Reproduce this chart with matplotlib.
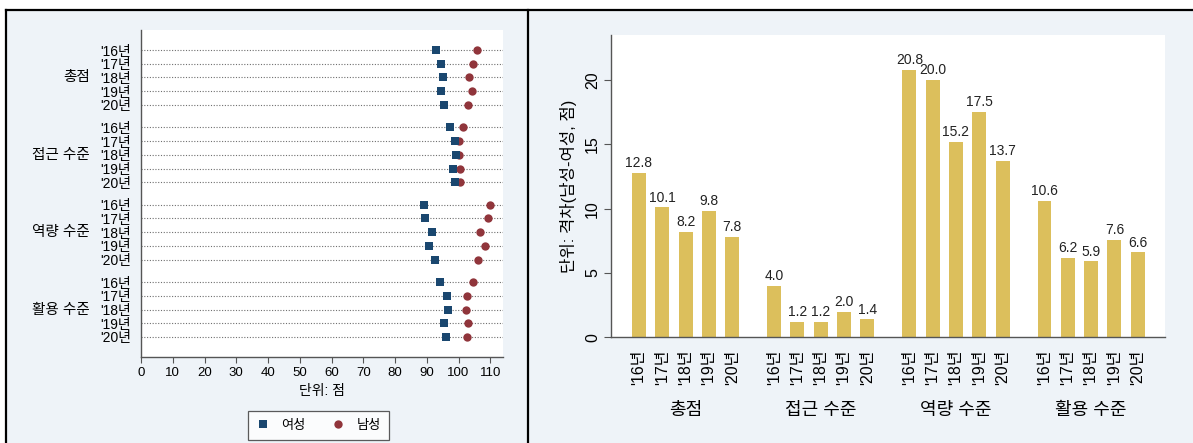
import matplotlib
matplotlib.use("Agg")
import matplotlib.pyplot as plt
from matplotlib.lines import Line2D
from matplotlib.patches import Rectangle
from matplotlib.transforms import blended_transform_factory

plt.rcParams['font.family'] = ['Liberation Sans', 'Noto Sans CJK KR']

# ---- data -------------------------------------------------------------
categories = ['총점', '접근 수준', '역량 수준', '활용 수준']
years = ["'16년", "'17년", "'18년", "'19년", "'20년"]

# scores (점) by category, '16 ~ '20
female_total = [92.8, 94.4, 95.2, 94.5, 95.3]
female_access = [97.3, 98.9, 99.1, 98.4, 99.0]
female_capacity = [89.0, 89.4, 91.7, 90.7, 92.5]
female_usage = [94.1, 96.4, 96.6, 95.3, 96.2]

male_total = [105.7, 104.5, 103.4, 104.3, 103.1]
male_access = [101.3, 100.1, 100.3, 100.4, 100.4]
male_capacity = [109.8, 109.4, 106.9, 108.2, 106.2]
male_usage = [104.7, 102.6, 102.5, 102.9, 102.8]

# gap (남성 - 여성)
gap_total = [12.8, 10.1, 8.2, 9.8, 7.8]
gap_access = [4.0, 1.2, 1.2, 2.0, 1.4]
gap_capacity = [20.8, 20.0, 15.2, 17.5, 13.7]
gap_usage = [10.6, 6.2, 5.9, 7.6, 6.6]

female = [female_total, female_access, female_capacity, female_usage]
male = [male_total, male_access, male_capacity, male_usage]
gap = [gap_total, gap_access, gap_capacity, gap_usage]

# ---- style ------------------------------------------------------------
W, H = 1193, 443
NAVY = '#1a476f'
MAROON = '#90353b'
SAND = '#dcbf5c'
PANEL = '#eef3f8'
AXIS = '#555555'

fig = plt.figure(figsize=(W / 100, H / 100), dpi=100)
fig.patch.set_facecolor('white')

# panel background and frame lines
fig.add_artist(Rectangle((6 / W, 0), 1 - 6 / W, 1 - 10 / H,
                         transform=fig.transFigure, facecolor=PANEL,
                         edgecolor='none', zorder=-5))
for xs, ys in [([6 / W, 1], [1 - 10 / H, 1 - 10 / H]),
               ([6 / W, 6 / W], [0, 1 - 10 / H]),
               ([528 / W, 528 / W], [0, 1 - 10 / H])]:
    fig.add_artist(Line2D(xs, ys, transform=fig.transFigure,
                          color='black', lw=1.6, zorder=5))

# ---- left: dot plot of scores ----------------------------------------
ax1 = fig.add_axes([141 / W, 1 - 357 / H, 362 / W, 327 / H])
ax1.set_facecolor('white')
GROUP_STEP_L = 5.65
rows, labels = [], []
for g in range(len(categories)):
    for j in range(len(years)):
        rows.append(g * GROUP_STEP_L + j)
        labels.append(years[j])

ax1.set_xlim(0, 114)
ax1.set_ylim(rows[-1] + 1.47, -1.47)
ax1.hlines(rows, 0, 114, colors='#6f6f6f', linestyles=(0, (1, 1.5)),
           lw=0.8, zorder=1)

for g in range(len(categories)):
    ys = [g * GROUP_STEP_L + j for j in range(len(years))]
    ax1.plot(male[g], ys, 'o', color=MAROON, markersize=6,
             markeredgewidth=0, zorder=3)
    ax1.plot(female[g], ys, 's', color=NAVY, markersize=6,
             markeredgewidth=0, zorder=4)

ax1.set_yticks(rows)
ax1.set_yticklabels(labels, fontsize=10)
ax1.tick_params(axis='y', length=0, pad=7)
ax1.set_xticks(range(0, 111, 10))
ax1.tick_params(axis='x', labelsize=9.5, length=4, width=0.8, color=AXIS,
                pad=3)
for s in ['top', 'right']:
    ax1.spines[s].set_visible(False)
for s in ['left', 'bottom']:
    ax1.spines[s].set_color(AXIS)
    ax1.spines[s].set_linewidth(1.0)
ax1.set_xlabel('단위: 점', fontsize=10, labelpad=4)

tr1 = blended_transform_factory(ax1.transAxes, ax1.transData)
for g, name in enumerate(categories):
    ax1.text(-0.141, g * GROUP_STEP_L + 2, name, transform=tr1,
             ha='right', va='center', fontsize=10.5)

handles = [Line2D([], [], marker='s', color=NAVY, ls='none', markersize=6,
                  markeredgewidth=0),
           Line2D([], [], marker='o', color=MAROON, ls='none', markersize=6,
                  markeredgewidth=0)]
leg = fig.legend(handles, ['여성', '남성'], loc='center',
                 bbox_to_anchor=(318.5 / W, 1 - 425.5 / H), ncol=2,
                 frameon=True, fancybox=False, fontsize=9.5,
                 handletextpad=0.9, columnspacing=2.0, borderpad=0.6,
                 handlelength=1.0)
leg.get_frame().set_edgecolor('#333333')
leg.get_frame().set_linewidth(0.9)
leg.get_frame().set_facecolor('white')

# ---- right: gap bars --------------------------------------------------
ax2 = fig.add_axes([611 / W, 1 - 337.3 / H, 554 / W, 302.3 / H])
ax2.set_facecolor('white')
GROUP_STEP_R = 5.8
xs_all, vals_all, xlabels = [], [], []
for g in range(len(categories)):
    for j in range(len(years)):
        xs_all.append(g * GROUP_STEP_R + j)
        vals_all.append(gap[g][j])
        xlabels.append(years[j])

bars = ax2.bar(xs_all, vals_all, width=0.6, color=SAND, zorder=2)
ax2.bar_label(bars, labels=[f'{v:.1f}' for v in vals_all], padding=2,
              fontsize=10, color='#222222')

ax2.set_xlim(-1.2, xs_all[-1] + 1.17)
ax2.set_ylim(0, 23.5)
ax2.set_yticks([0, 5, 10, 15, 20])
ax2.set_yticklabels(['0', '5', '10', '15', '20'], rotation=90,
                    va='center', fontsize=11.5)
ax2.tick_params(axis='y', length=5, width=0.8, color=AXIS, pad=3)
ax2.set_xticks(xs_all)
ax2.set_xticklabels(xlabels, rotation=90, fontsize=11.5)
ax2.tick_params(axis='x', length=0, pad=9)
for s in ['top', 'right']:
    ax2.spines[s].set_visible(False)
for s in ['left', 'bottom']:
    ax2.spines[s].set_color(AXIS)
    ax2.spines[s].set_linewidth(1.0)
ax2.set_ylabel('단위: 격차(남성-여성, 점)', fontsize=12, labelpad=6)

tr2 = blended_transform_factory(ax2.transData, ax2.transAxes)
for g, name in enumerate(categories):
    ax2.text(g * GROUP_STEP_R + 2, -0.2405, name, transform=tr2,
             ha='center', va='center', fontsize=13)

fig.savefig('out.png', dpi=100)
